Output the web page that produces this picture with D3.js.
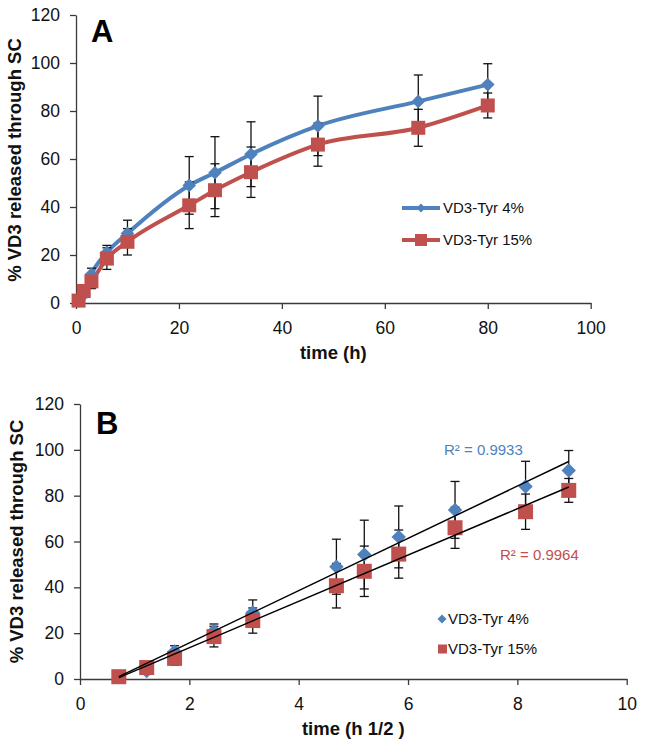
<!DOCTYPE html>
<html>
<head>
<meta charset="utf-8">
<script src="https://cdn.jsdelivr.net/npm/d3@7"></script>
<style>
  html, body { margin: 0; padding: 0; background: #fff; }
  svg { display: block; }
  text { font-family: "Liberation Sans", Arial, sans-serif; }
</style>
</head>
<body>
<svg id="chart" width="645" height="747"></svg>
<script>
// ---------- data ----------
const times      = [0.5, 1.5, 3, 6, 10, 22, 27, 34, 47, 66.5, 80];          // h
const sqrtTimes  = [0.71, 1.22, 1.73, 2.45, 3.16, 4.69, 5.2, 5.83, 6.86, 8.15, 8.94]; // h^1/2
const tyr4       = [1, 3.5, 12, 21, 29, 49, 54.3, 62, 73.8, 84, 91];
const tyr4Err    = [0.8, 1.2, 2.5, 3, 5.5, 12, 15, 13.5, 12.4, 11, 8.7];
const tyr15      = [1, 5, 9, 18.5, 25.5, 40.7, 47, 54.5, 66, 73, 82.3];
const tyr15Err   = [0.8, 1.2, 3, 4.5, 5.5, 9.7, 11, 10.5, 9, 7.7, 5.2];
const seriesNames = ["VD3-Tyr 4%", "VD3-Tyr 15%"];
const r2Labels    = ["R² = 0.9933", "R² = 0.9964"];
const yTicks  = [0, 20, 40, 60, 80, 100, 120];
const xTicksA = [0, 20, 40, 60, 80, 100];
const xTicksB = [0, 2, 4, 6, 8, 10];

const BLUE = "#4F81BD", RED = "#C0504D";
const FONT = "'Liberation Sans', Arial, sans-serif";
const svg = d3.select("#chart");

function styleAxis(g) {
  g.select(".domain").attr("stroke", "#3a3a3a").attr("stroke-width", 1.3);
  g.selectAll(".tick line").attr("stroke", "#3a3a3a").attr("stroke-width", 1.3);
  g.selectAll(".tick text").attr("fill", "#111").style("font-size", "17.5px").style("font-family", FONT);
}

function makePanel(opts) {
  const x = d3.scaleLinear().domain(opts.xDomain).range([opts.left, opts.right]);
  const y = d3.scaleLinear().domain([0, 120]).range([opts.bottom, opts.top]);
  const g = svg.append("g");

  const gx = g.append("g").attr("transform", `translate(0,${opts.bottom})`)
    .call(d3.axisBottom(x).tickValues(opts.xTicks).tickSize(6).tickSizeOuter(0).tickPadding(13).tickFormat(d3.format("d")));
  styleAxis(gx);
  const gy = g.append("g").attr("transform", `translate(${opts.left},0)`)
    .call(d3.axisLeft(y).tickValues(yTicks).tickSize(6).tickSizeOuter(0).tickPadding(10).tickFormat(d3.format("d")));
  styleAxis(gy);

  // axis titles
  g.append("text")
    .attr("transform", `translate(${opts.yTitleX},${opts.yTitleC}) rotate(-90)`)
    .attr("text-anchor", "middle")
    .style("font-size", "18.5px").style("font-weight", "bold").attr("fill", "#111")
    .text("% VD3 released through SC");
  g.append("text")
    .attr("x", (opts.left + opts.right) / 2).attr("y", opts.xTitleY)
    .attr("text-anchor", "middle")
    .style("font-size", "18.5px").style("font-weight", "bold").attr("fill", "#111")
    .text(opts.xTitle);

  // panel letter
  g.append("text").attr("x", opts.letterX).attr("y", opts.letterY)
    .style("font-size", "31px").style("font-weight", "bold").attr("fill", "#000")
    .text(opts.letter);
  return { g, x, y };
}

function errorBars(g, x, y, xs, ys, es) {
  const eg = g.append("g").attr("stroke", "#111").attr("stroke-width", 1.3);
  xs.forEach((xv, i) => {
    const cx = x(xv), y1 = y(ys[i] + es[i]), y0 = y(ys[i] - es[i]);
    eg.append("line").attr("x1", cx).attr("x2", cx).attr("y1", y1).attr("y2", y0);
    eg.append("line").attr("x1", cx - 4.5).attr("x2", cx + 4.5).attr("y1", y1).attr("y2", y1);
    eg.append("line").attr("x1", cx - 4.5).attr("x2", cx + 4.5).attr("y1", y0).attr("y2", y0);
  });
}

function diamonds(g, x, y, xs, ys, r) {
  g.append("g").selectAll("path").data(xs).join("path")
    .attr("d", (d, i) => {
      const cx = x(d), cy = y(ys[i]);
      return `M${cx},${cy - r}L${cx + r},${cy}L${cx},${cy + r}L${cx - r},${cy}Z`;
    })
    .attr("fill", BLUE);
}
function squares(g, x, y, xs, ys, s) {
  g.append("g").selectAll("rect").data(xs).join("rect")
    .attr("x", d => x(d) - s / 2)
    .attr("y", (d, i) => y(ys[i]) - s / 2)
    .attr("width", s).attr("height", s)
    .attr("fill", RED);
}

// ---------- Panel A ----------
{
  const { g, x, y } = makePanel({
    xDomain: [0, 100], xTicks: xTicksA, left: 76, right: 590.7, top: 15, bottom: 303,
    yTitleX: 21, yTitleC: 160, xTitleY: 359, xTitle: "time (h)", letter: "A", letterX: 91, letterY: 41.5
  });
  const line = (vals) => d3.line().x((d, i) => x(times[i])).y((d) => y(d)).curve(d3.curveMonotoneX)(vals);
  g.append("path").attr("d", line(tyr4)).attr("fill", "none").attr("stroke", BLUE).attr("stroke-width", 4).attr("stroke-linejoin", "round");
  g.append("path").attr("d", line(tyr15)).attr("fill", "none").attr("stroke", RED).attr("stroke-width", 4).attr("stroke-linejoin", "round");
  errorBars(g, x, y, times, tyr4, tyr4Err);
  errorBars(g, x, y, times, tyr15, tyr15Err);
  diamonds(g, x, y, times, tyr4, 6.8);
  squares(g, x, y, times, tyr15, 14);

  // legend
  const lg = g.append("g");
  [[208, BLUE], [240, RED]].forEach(([ly, c], i) => {
    lg.append("line").attr("x1", 402).attr("x2", 440).attr("y1", ly).attr("y2", ly).attr("stroke", c).attr("stroke-width", 4);
    if (i === 0) {
      lg.append("path").attr("d", `M421,${ly - 4.5}L425.5,${ly}L421,${ly + 4.5}L416.5,${ly}Z`).attr("fill", c);
    } else {
      lg.append("rect").attr("x", 415).attr("y", ly - 6).attr("width", 12).attr("height", 12).attr("fill", c);
    }
    lg.append("text").attr("x", 443).attr("y", ly).attr("dy", "0.36em")
      .style("font-size", "15px").attr("fill", "#111").text(seriesNames[i]);
  });
}

// ---------- Panel B ----------
{
  const { g, x, y } = makePanel({
    xDomain: [0, 10], xTicks: xTicksB, left: 80, right: 626.7, top: 404, bottom: 679,
    yTitleX: 23, yTitleC: 541.5, xTitleY: 735, xTitle: "time (h 1/2 )", letter: "B", letterX: 96, letterY: 434
  });
  errorBars(g, x, y, sqrtTimes, tyr4, tyr4Err);
  errorBars(g, x, y, sqrtTimes, tyr15, tyr15Err);
  diamonds(g, x, y, sqrtTimes, tyr4, 7.2);
  squares(g, x, y, sqrtTimes, tyr15, 15);

  // linear trendlines (least squares)
  function fit(xs, ys) {
    const mx = d3.mean(xs), my = d3.mean(ys);
    let sxy = 0, sxx = 0;
    xs.forEach((v, i) => { sxy += (v - mx) * (ys[i] - my); sxx += (v - mx) * (v - mx); });
    const m = sxy / sxx; return { m, b: my - m * mx };
  }
  const x0 = d3.min(sqrtTimes), x1 = d3.max(sqrtTimes);
  [tyr4, tyr15].forEach(vals => {
    const f = fit(sqrtTimes, vals);
    g.append("line")
      .attr("x1", x(x0)).attr("y1", y(f.m * x0 + f.b))
      .attr("x2", x(x1)).attr("y2", y(f.m * x1 + f.b))
      .attr("stroke", "#000").attr("stroke-width", 1.5);
  });

  g.append("text").attr("x", 444).attr("y", 454.5).style("font-size", "15px").attr("fill", BLUE).text(r2Labels[0]);
  g.append("text").attr("x", 500).attr("y", 559.5).style("font-size", "15px").attr("fill", RED).text(r2Labels[1]);

  // legend
  const lg = g.append("g");
  lg.append("path").attr("d", "M442,614.5L446.5,619L442,623.5L437.5,619Z").attr("fill", BLUE);
  lg.append("text").attr("x", 448).attr("y", 619).attr("dy", "0.36em").style("font-size", "15px").attr("fill", "#111").text(seriesNames[0]);
  lg.append("rect").attr("x", 438).attr("y", 644.5).attr("width", 9).attr("height", 9).attr("fill", RED);
  lg.append("text").attr("x", 448).attr("y", 649).attr("dy", "0.36em").style("font-size", "15px").attr("fill", "#111").text(seriesNames[1]);
}
</script>
</body>
</html>
